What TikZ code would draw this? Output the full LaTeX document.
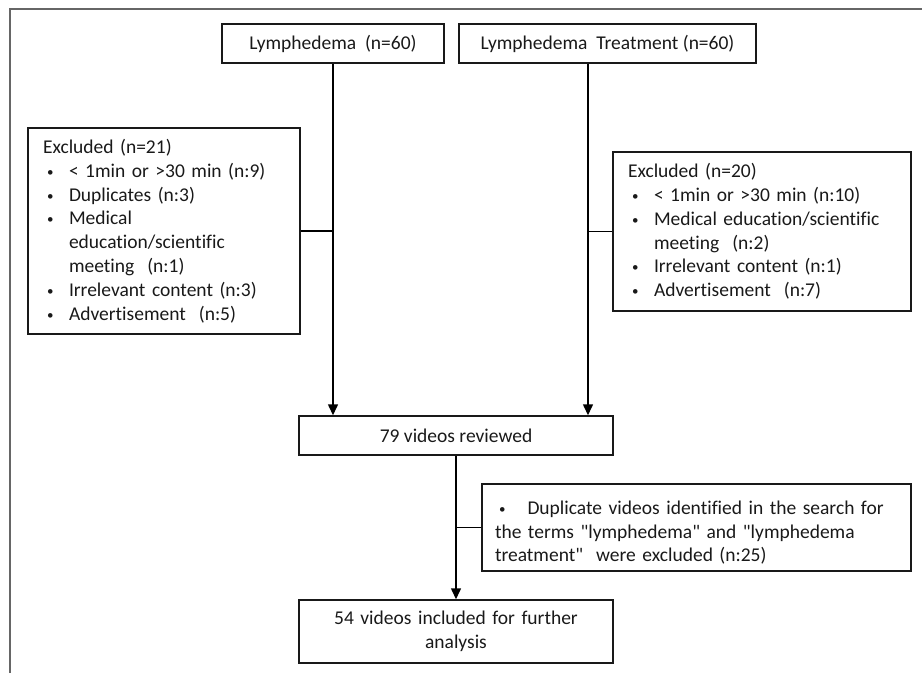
\documentclass[tikz,border=0pt]{standalone}
\usepackage{fontspec}
\setmainfont{Carlito}[Ligatures={TeXOff,CommonOff}]
\usetikzlibrary{arrows.meta}
\newcommand{\bitem}[1]{\par\hangindent=26pt\hangafter=1\noindent\hbox to 26pt{\hskip4pt\raisebox{1pt}{\fontsize{13}{13}\selectfont\textbullet}\hfil}#1}

\begin{document}
\begin{tikzpicture}[x=1pt,y=-1pt,
	box/.style={draw=black!90,line width=1.5pt,inner sep=0pt,text=black!90,font=\fontsize{19.5}{23.8}\selectfont},
	list/.style={box,align=left,inner xsep=15pt},
	arr/.style={line width=1.5pt,-{Triangle[length=11pt,width=10pt]}}]
				\useasboundingbox (0,0) rectangle (922,673);
				\draw[black!60,line width=1.2pt] (10,673) -- (10,9) -- (922,9);
				
				\node[box,minimum width=222pt,minimum height=39pt] (lym) at (333,43.5) {Lymphedema\ \ (n=60)};
				\node[box,minimum width=297pt,minimum height=39pt] (trt) at (607.5,43.5) {Lymphedema\ \ Treatment (n=60)};
				\node[list,text width=242pt,minimum height=206pt] (exl) at (164,231) {\noindent Excluded (n=21)
					\bitem{< 1min or >30 min (n:9)}
					\bitem{Duplicates (n:3)}
					\bitem{Medical\newline education/scientific\newline meeting\ \ (n:1)}
					\bitem{Irrelevant content (n:3)}
					\bitem{Advertisement\ \ (n:5)}};
				\node[list,text width=268pt,minimum height=159pt] (exr) at (762,231.5) {\noindent Excluded (n=20)
					\bitem{< 1min or >30 min (n:10)}
					\bitem{Medical education/scientific\newline meeting\ \ (n:2)}
					\bitem{Irrelevant content (n:1)}
					\bitem{Advertisement\ \ (n:7)}};
				\node[box,minimum width=314pt,minimum height=39pt] (rev) at (456,435.5) {79 videos reviewed};
				\node[list,inner xsep=13pt,text width=403pt,minimum height=87pt] (dup) at (696.5,527.5) {\bitem{ Duplicate videos identified in the search for\newline the terms "lymphedema" and "lymphedema\newline treatment"\ \ were excluded (n:25)}};
				\node[box,align=center,text width=314pt,minimum height=63pt] (inc) at (456,631.5) {54 videos included for further\\analysis};
				
				\coordinate (trtout) at ([xshift=-19.5pt]trt.south);
				\draw[arr] (lym.south) -- (lym.south |- rev.north);
				\draw[arr] (trtout) -- (trtout |- rev.north);
				\draw[line width=1.5pt] (exl.east) -- (exl.east -| lym.south);
				\draw[line width=1.5pt] (exr.west) -- (exr.west -| trtout);
				\draw[arr] (rev.south) -- (inc.north);
				\draw[line width=1.5pt] (dup.west) -- (dup.west -| rev.south);
			\end{tikzpicture}
\end{document}
